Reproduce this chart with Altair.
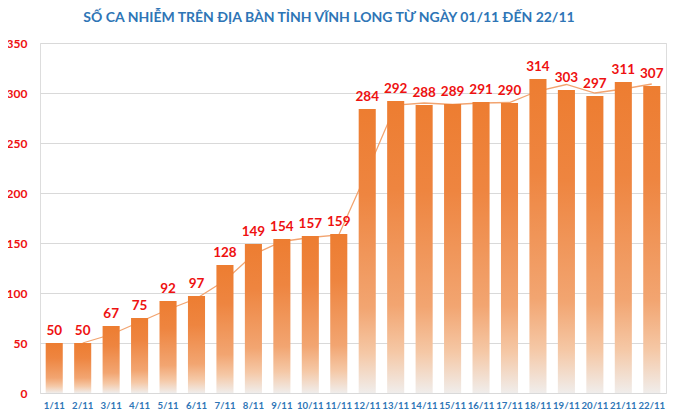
import altair as alt
import pandas as pd

days = ["1/11", "2/11", "3/11", "4/11", "5/11", "6/11", "7/11", "8/11", "9/11", "10/11", "11/11",
        "12/11", "13/11", "14/11", "15/11", "16/11", "17/11", "18/11", "19/11", "20/11", "21/11", "22/11"]
cases = [50, 50, 67, 75, 92, 97, 128, 149, 154, 157, 159,
         284, 292, 288, 289, 291, 290, 314, 303, 297, 311, 307]
y_ticks = [0, 50, 100, 150, 200, 250, 300, 350]
title_text = "SỐ CA NHIỄM TRÊN ĐỊA BÀN TỈNH VĨNH LONG TỪ NGÀY 01/11 ĐẾN 22/11"

df = pd.DataFrame({"day": days, "cases": cases})

FONT = "Lato"
BLUE = "#2E75B6"
RED = "#EE1111"

x_enc = alt.X("day:N", sort=days,
              scale=alt.Scale(paddingInner=0.4, paddingOuter=0.2),
              axis=alt.Axis(title=None, labelAngle=0, labelColor=BLUE, labelFont=FONT,
                            labelFontWeight="bold", labelFontSize=9.6, ticks=False,
                            domain=False, labelPadding=7))
y_enc = alt.Y("cases:Q", scale=alt.Scale(domain=[0, 350], nice=False),
              axis=alt.Axis(title=None, values=y_ticks, labelColor=RED, labelFont=FONT,
                            labelFontWeight="bold", labelFontSize=12, ticks=False,
                            domain=False, labelPadding=13, gridColor="#D9D9D9",
                            gridWidth=1))

base = alt.Chart(df)

# Excel-style 2-period moving-average trendline
trend = base.transform_window(
    ma="mean(cases)", rn="row_number()", frame=[-1, 0]
).transform_filter(alt.datum.rn > 1).mark_line(
    color="#F2A470", strokeWidth=1.3
).encode(x=x_enc, y=alt.Y("ma:Q", scale=alt.Scale(domain=[0, 350], nice=False)))

bars = base.mark_bar(
    color=alt.Gradient(
        gradient="linear",
        stops=[alt.GradientStop(offset=0, color="#ED7D31"),
               alt.GradientStop(offset=0.3, color="#EE8540"),
               alt.GradientStop(offset=0.7, color="#F2A571"),
               alt.GradientStop(offset=0.86, color="#F5C8A6"),
               alt.GradientStop(offset=1, color="#F0EDEB")],
        x1=0, x2=0, y1=0, y2=1)
).encode(x=x_enc, y=y_enc)

labels = base.mark_text(
    baseline="bottom", dy=-5, color=RED, font=FONT, fontWeight="bold", fontSize=13.5
).encode(x=alt.X("day:N", sort=days), y=alt.Y("cases:Q"), text="cases:Q")

chart = alt.layer(trend, bars, labels).properties(
    width=626, height=350,
    title=alt.TitleParams(title_text, color=BLUE, font=FONT, fontSize=14,
                          fontWeight="bold", anchor="middle", frame="group",
                          offset=12, dx=-24),
    autosize=alt.AutoSizeParams(type="none"),
    padding={"left": 32, "top": 35, "right": 6, "bottom": 16},
).configure_view(fill="#EEEEEE", stroke=None).configure(background="white")

chart.save("out.html", embed_options={"renderer": "svg", "actions": False})
